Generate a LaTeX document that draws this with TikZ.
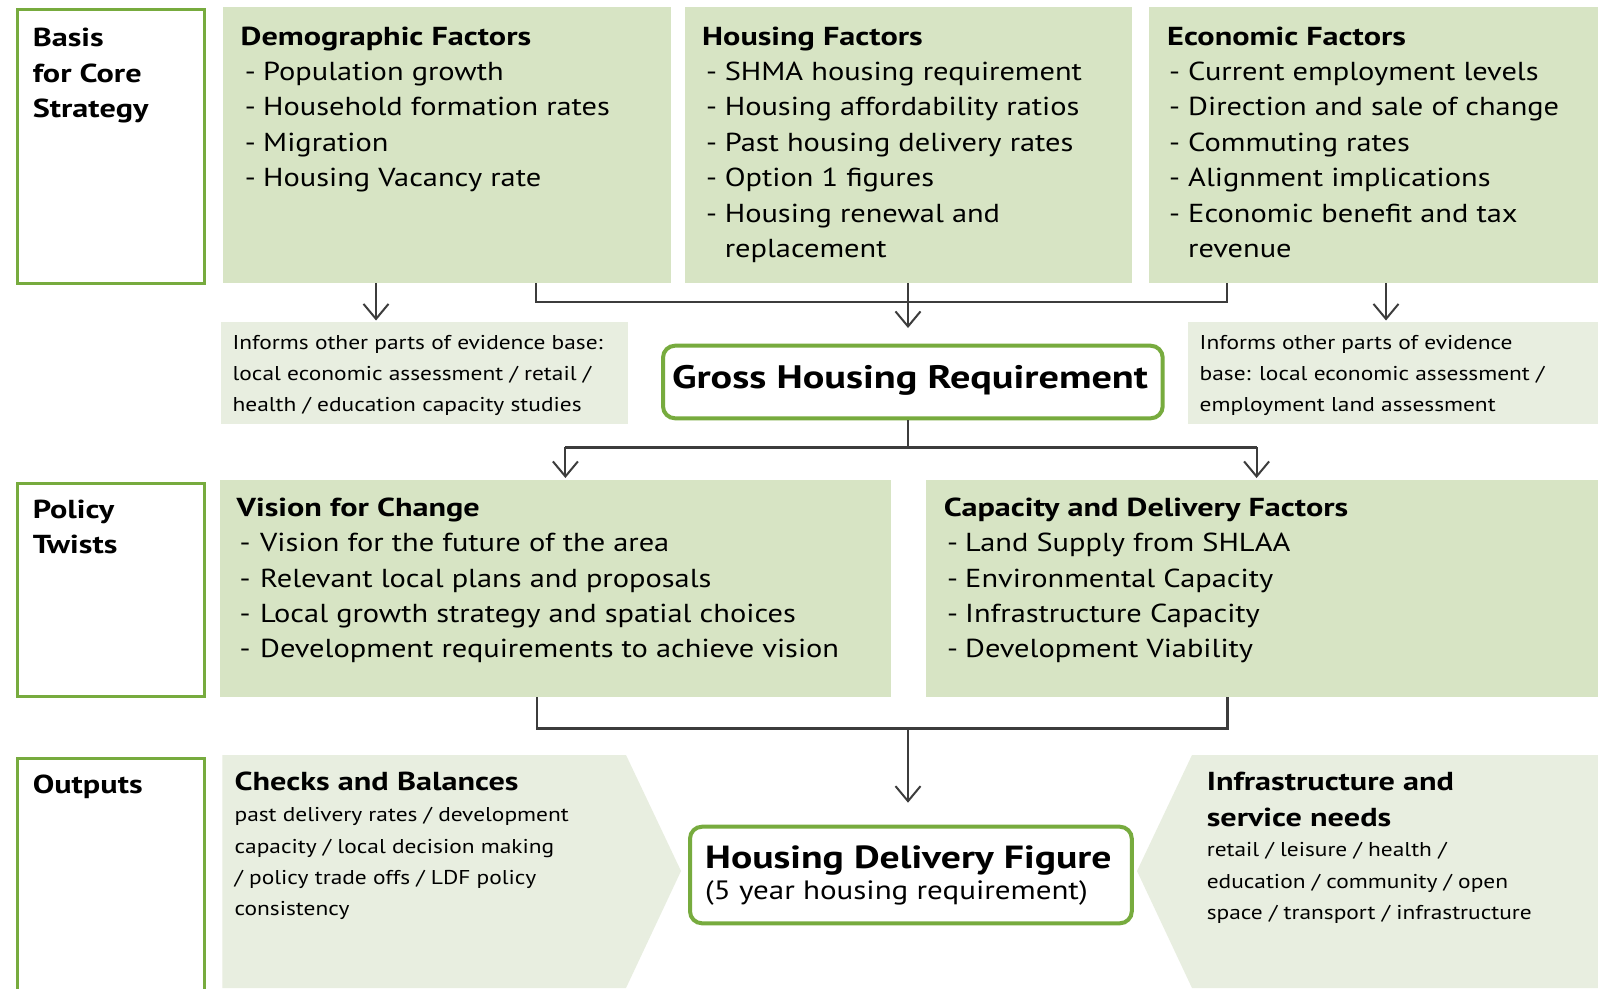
\documentclass[tikz,border=0pt]{standalone}
\usepackage{fontspec}
\setmainfont{PT Sans}[FakeStretch=1.17,BoldFeatures={FakeStretch=1.24}]
\usetikzlibrary{arrows.meta}
\definecolor{gbord}{HTML}{77AB3E}
\definecolor{dfill}{HTML}{D7E4C4}
\definecolor{lfill}{HTML}{E8EEE0}
\definecolor{conn}{HTML}{3C3C3C}
\begin{document}
\begin{tikzpicture}[x=1pt,y=-1pt,
  labelbox/.style={draw=gbord,line width=3pt,fill=white,inner sep=0pt,anchor=north west},
  dbox/.style={fill=dfill,inner sep=0pt,anchor=north west},
  lbox/.style={fill=lfill,inner sep=0pt,anchor=north west},
  rbox/.style={draw=gbord,line width=4pt,fill=white,rounded corners=12pt,inner sep=0pt,anchor=north west},
  ttl/.style={anchor=base west,align=left,inner sep=0pt,font=\fontsize{26}{35.4}\selectfont\bfseries},
  itm/.style={anchor=base west,align=left,inner sep=0pt,font=\fontsize{26}{35.4}\selectfont},
  sml/.style={anchor=base west,align=left,inner sep=0pt,font=\fontsize{20}{31}\selectfont},
  brk/.style={draw=conn,line width=2.4pt},
  arr/.style={draw=conn,line width=2pt,-{Straight Barb[length=15pt,width=25pt,line width=2pt]}}
]
\useasboundingbox (0,0) rectangle (1598,988);
\clip (0,0) rectangle (1598,988);
\fill[white] (0,0) rectangle (1598,988);

% ---- row 1 (multi-line nodes are placed by the baseline of their last line)
\node[labelbox,minimum width=187.7pt,minimum height=273.3pt] (basis) at (15.5,8.2) {};
\node[ttl] (basisT) at (32.6,117.5) {Basis\\for Core\\Strategy};

\node[dbox,minimum width=447.5pt,minimum height=276.3pt] (demo) at (223,6.7) {};
\node[ttl] (demoT) at (240.5,45) {Demographic Factors};
\node[itm] (demoD) at (244.6,186.7) {-\\-\\-\\-};
\node[itm] (demoI) at (263,186.7) {Population growth\\Household formation rates\\Migration\\Housing Vacancy rate};

\node[dbox,minimum width=447.5pt,minimum height=276.3pt] (house) at (684.5,6.7) {};
\node[ttl] (houseT) at (702,45) {Housing Factors};
\node[itm] (houseD) at (706,222.1) {-\\-\\-\\-\\-};
\node[itm] (houseI) at (724.6,257.5) {SHMA housing requirement\\Housing affordability ratios\\Past housing delivery rates\\Option 1 figures\\Housing renewal and\\replacement};

\node[dbox,minimum width=449.2pt,minimum height=276.3pt] (econ) at (1148.8,6.7) {};
\node[ttl] (econT) at (1167,45) {Economic Factors};
\node[itm] (econD) at (1169,222.1) {-\\-\\-\\-\\-};
\node[itm] (econI) at (1188,257.5) {Current employment levels\\Direction and sale of change\\Commuting rates\\Alignment implications\\Economic benefit and tax\\revenue};

% ---- informs + gross
\node[lbox,minimum width=407pt,minimum height=101.6pt] (infL) at (221,321.7) {};
\node[sml] (infLT) at (232.4,411.5) {Informs other parts of evidence base:\\local economic assessment / retail /\\health / education capacity studies};

\node[lbox,minimum width=410pt,minimum height=101.6pt] (infR) at (1188,321.7) {};
\node[sml] (infRT) at (1199.5,411.5) {Informs other parts of evidence\\base: local economic assessment /\\employment land assessment};

\node[rbox,minimum width=499.7pt,minimum height=72.6pt] (gross) at (661,343.7) {};
\node[anchor=base,inner sep=0pt,font=\fontsize{32.5}{40}\selectfont\bfseries] (grossT) at (910,388) {Gross Housing Requirement};

% ---- row 2
\node[labelbox,minimum width=187.7pt,minimum height=213.7pt] (policy) at (15.5,481.5) {};
\node[ttl] (policyT) at (32.6,553.4) {Policy\\Twists};

\node[dbox,minimum width=671.1pt,minimum height=216.7pt] (vision) at (219.9,480) {};
\node[ttl] (visionT) at (236.5,516.7) {Vision for Change};
\node[itm] (visionD) at (239.5,657.9) {-\\-\\-\\-};
\node[itm] (visionI) at (260,657.9) {Vision for the future of the area\\Relevant local plans and proposals\\Local growth strategy and spatial choices\\Development requirements to achieve vision};

\node[dbox,minimum width=672.6pt,minimum height=216.7pt] (cap) at (925.4,480) {};
\node[ttl] (capT) at (943.7,516.7) {Capacity and Delivery Factors};
\node[itm] (capD) at (947,657.9) {-\\-\\-\\-};
\node[itm] (capI) at (965,657.9) {Land Supply from SHLAA\\Environmental Capacity\\Infrastructure Capacity\\Development Viability};

% ---- row 3
\node[labelbox,minimum width=187.7pt,minimum height=260pt] (outputs) at (15.5,756.5) {};
\node[ttl] (outputsT) at (32.6,793) {Outputs};

\fill[lfill] (222.4,755) -- (626,755) -- (681,871) -- (626,988) -- (222.4,988) -- cycle;
\node[ttl] (checksT) at (234.4,790) {Checks and Balances};
\node[sml,font=\fontsize{20}{31.4}\selectfont] (checksI) at (234.4,915.9) {past delivery rates / development\\capacity / local decision making\\/ policy trade offs / LDF policy\\consistency};

\fill[lfill] (1192,755) -- (1598,755) -- (1598,988) -- (1192,988) -- (1137,871) -- cycle;
\node[ttl,font=\fontsize{26}{36}\selectfont\bfseries] (infraT) at (1206.6,826) {Infrastructure and\\service needs};
\node[sml,font=\fontsize{20}{31.6}\selectfont] (infraI) at (1206.6,919.9) {retail / leisure / health /\\education / community / open\\space / transport / infrastructure};

\node[rbox,minimum width=441.8pt,minimum height=96.6pt] (hdf) at (688,824.7) {};
\node[anchor=base west,inner sep=0pt,font=\fontsize{32}{32}\selectfont\bfseries] (hdfT) at (705,868) {Housing Delivery Figure};
\node[anchor=base west,inner sep=0pt,font=\fontsize{26.5}{32}\selectfont] (hdfS) at (705,899) {(5 year housing requirement)};

% ---- connectors
\coordinate (aL) at (376,320.5);
\coordinate (aR) at (1386,320.5);
\coordinate (b1) at (536,301.7);
\coordinate (b2) at (1227,301.7);
\coordinate (gTip) at (908,328);
\draw[arr] (demo.south -| aL) -- (aL);
\draw[arr] (econ.south -| aR) -- (aR);
\draw[brk] (demo.south -| b1) -- (b1) -- (b2) -- (econ.south -| b2);
\draw[arr] (house.south -| gTip) -- (gTip);

\coordinate (gB) at (908,447.3);
\coordinate (vL) at (565.4,447.3);
\coordinate (vR) at (1256.6,447.3);
\draw[brk] (gross.south -| gB) -- (gB);
\draw[brk] (vL) -- (vR);
\draw[arr] (vL) -- ([yshift=2pt]vL |- vision.north);
\draw[arr] (vR) -- ([yshift=2pt]vR |- cap.north);

\coordinate (c1) at (536.7,728.5);
\coordinate (c2) at (1227.5,728.5);
\coordinate (hTip) at (908,802.7);
\draw[brk] (vision.south -| c1) -- (c1) -- (c2) -- (cap.south -| c2);
\draw[arr] (hTip |- c1) -- (hTip);
\end{tikzpicture}
\end{document}
